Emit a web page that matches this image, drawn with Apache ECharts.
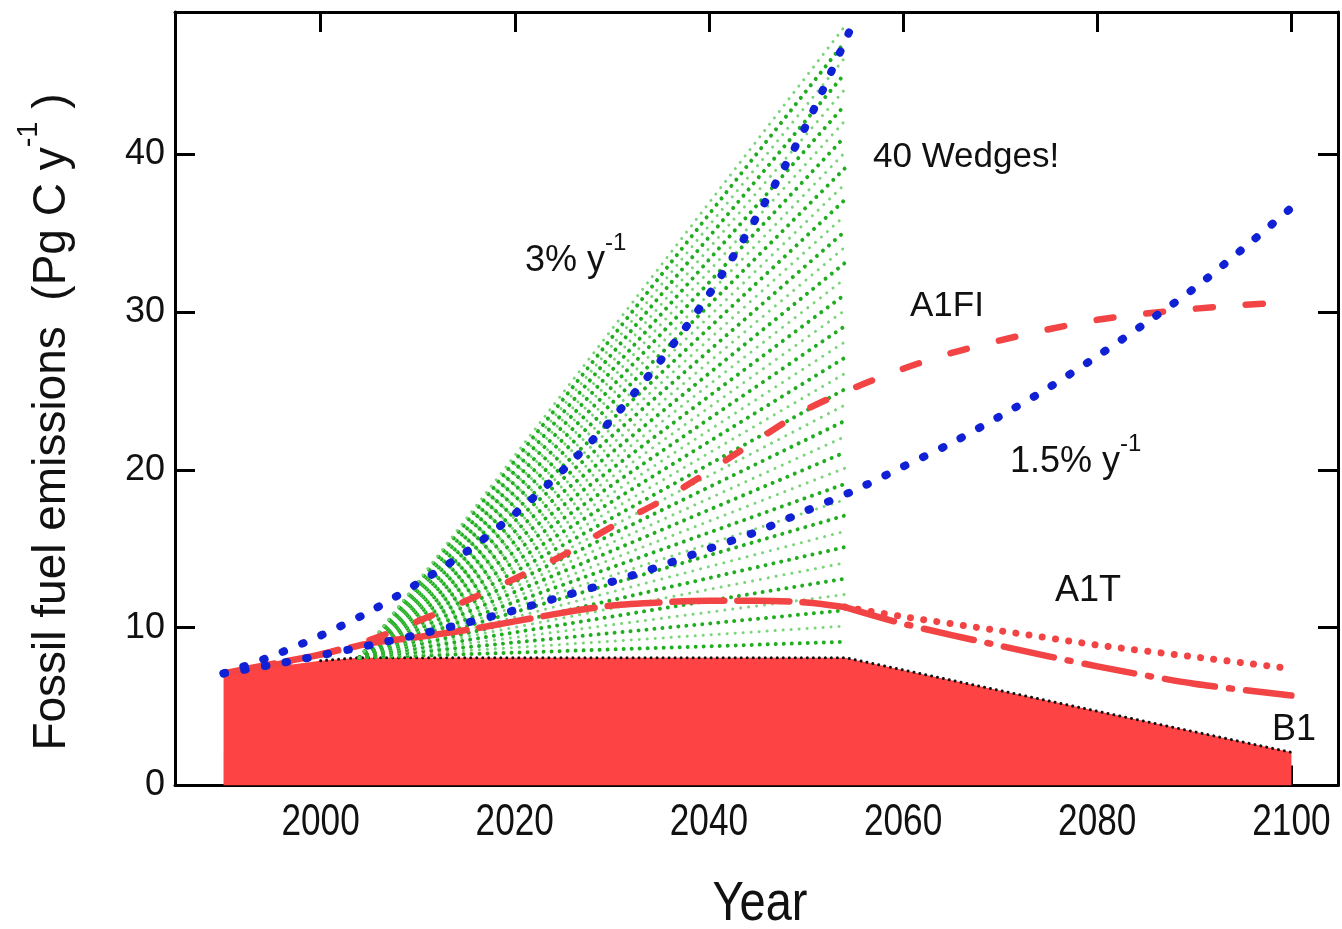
<!DOCTYPE html>
<html>
<head>
<meta charset="utf-8">
<script src="https://cdn.jsdelivr.net/npm/echarts@6/dist/echarts.min.js"></script>
<style>
  html, body { margin: 0; padding: 0; background: #ffffff; }
  #chart { width: 1342px; height: 929px; }
</style>
</head>
<body>
<div id="chart"></div>
<script>
// ---- Emission pathways, Pg C per year ----
const growth3Years = [1990, 1995, 2000, 2005, 2010, 2015, 2020, 2025, 2030, 2035, 2040, 2045, 2050, 2055];
const growth3Values = [7.1, 8.2, 9.5, 11.0, 12.8, 14.8, 17.2, 20.0, 23.2, 26.9, 31.1, 36.1, 41.8, 48.5];

const fiveYearSteps = [1990, 1995, 2000, 2005, 2010, 2015, 2020, 2025, 2030, 2035, 2040, 2045,
                       2050, 2055, 2060, 2065, 2070, 2075, 2080, 2085, 2090, 2095, 2100];
const growth15Values = [7.1, 7.65, 8.24, 8.88, 9.56, 10.3, 11.1, 12.0, 12.9, 13.9, 15.0, 16.1,
                        17.4, 18.7, 20.2, 21.7, 23.4, 25.2, 27.2, 29.3, 31.5, 34.0, 36.6];
const a1fiValues = [7.1, 7.6, 8.3, 9.2, 10.4, 11.7, 13.1, 14.6, 16.4, 18.0, 19.9, 21.9,
                    23.8, 25.2, 26.4, 27.4, 28.2, 28.9, 29.5, 29.9, 30.2, 30.45, 30.6];

const a1tSharedYears = [1990, 1995, 2000, 2005, 2010, 2015, 2020, 2025, 2030, 2035, 2040, 2045, 2050, 2054];
const a1tSharedValues = [7.1, 7.7, 8.3, 9.0, 9.4, 9.85, 10.4, 10.95, 11.4, 11.6, 11.7, 11.7, 11.6, 11.3];
const a1tBranchYears = [2054, 2060, 2070, 2080, 2090, 2100];
const a1tHighValues = [11.3, 10.7, 9.8, 8.9, 8.15, 7.4];
const a1tLowValues = [11.3, 10.25, 8.85, 7.55, 6.45, 5.7];

const b1Years = [1990, 2000, 2004, 2054, 2100];
const b1Values = [7.1, 7.9, 8.1, 8.1, 2.1];

// Stabilisation wedges: each fans out from the flat path to its 2054 level
const wedgeStartYear = 2004;
const wedgeStartValue = 8.1;
const wedgeEndYear = 2054;
const wedgeEndValues = [9.1, 10.1, 11.1, 12.1, 13.1, 14.1, 15.1, 16.1, 17.1, 18.1,
                        19.1, 20.1, 21.1, 22.1, 23.1, 24.1, 25.1, 26.1, 27.1, 28.1,
                        29.1, 30.1, 31.1, 32.1, 33.1, 34.1, 35.1, 36.1, 37.1, 38.1,
                        39.1, 40.1, 41.1, 42.1, 43.1, 44.1, 45.1, 46.1, 47.1, 48.1];

const xTickYears = [2000, 2020, 2040, 2060, 2080, 2100];
const yTickValues = [0, 10, 20, 30, 40];

// ---- Styling ----
const FONT = '"Liberation Sans", Arial, Helvetica, sans-serif';
const RED = '#f24444';
const FILL_RED = '#fd4343';
const BLUE = '#1020d4';
const GREEN_DARK = '#20ae20';
const GREEN_LIGHT = '#7ad47a';
const INK = '#111111';

const pairs = (xs, ys) => xs.map((x, i) => [x, ys[i]]);

const lineSeries = (name, data, style, z, smooth) => ({
  name, type: 'line', data, symbol: 'none', silent: true,
  smooth: smooth === undefined ? 0.3 : smooth,
  lineStyle: Object.assign({ cap: 'round', join: 'round' }, style),
  z: z || 2
});

const series = [];

// B1 pathway, filled down to zero, with its dotted outline
series.push({
  name: 'B1', type: 'line', data: pairs(b1Years, b1Values), symbol: 'none', silent: true,
  lineStyle: { width: 0, color: FILL_RED }, areaStyle: { color: FILL_RED, opacity: 1 }, z: 1
});
series.push(lineSeries('B1 edge', pairs(b1Years.slice(1), b1Values.slice(1)),
  { color: INK, width: 3, type: [0.01, 6] }, 2, false));

// The wedge fan
wedgeEndValues.forEach((top, k) => {
  series.push({
    type: 'line', symbol: 'none', silent: true, z: 2,
    data: [[wedgeStartYear, wedgeStartValue], [wedgeEndYear, top]],
    lineStyle: {
      color: k % 2 === 0 ? GREEN_DARK : GREEN_LIGHT,
      width: k % 2 === 0 ? 4 : 3,
      type: [0.01, 8], cap: 'round'
    }
  });
});

// A1T and its two continuations
series.push(lineSeries('A1T', pairs(a1tSharedYears, a1tSharedValues),
  { color: RED, width: 6.5, type: [52, 13] }, 3));
series.push(lineSeries('A1T high', pairs(a1tBranchYears, a1tHighValues),
  { color: RED, width: 7, type: [0.01, 13.3] }, 3));
series.push(lineSeries('A1T low', pairs(a1tBranchYears, a1tLowValues),
  { color: RED, width: 6.5, type: [51, 14, 3, 14] }, 3));

// A1FI
series.push(lineSeries('A1FI', pairs(fiveYearSteps, a1fiValues),
  { color: RED, width: 6.5, type: [17, 33] }, 3));

// Constant growth paths
series.push(lineSeries('1.5%', pairs(fiveYearSteps, growth15Values),
  { color: BLUE, width: 8, type: [1.5, 19.5] }, 4));
series.push(lineSeries('3%', pairs(growth3Years, growth3Values),
  { color: BLUE, width: 8, type: [1.5, 19.5] }, 4));

const axisLine = { show: true, onZero: false, lineStyle: { color: '#000000', width: 3 } };
const xTick = { show: true, inside: true, length: 20, customValues: xTickYears,
                lineStyle: { color: '#000000', width: 3 } };
const yTick = { show: true, inside: true, length: 20, customValues: yTickValues,
                lineStyle: { color: '#000000', width: 3 } };

const xMin = 1985, xMax = 2104.8;

const option = {
  animation: false,
  backgroundColor: '#ffffff',
  grid: { left: 175, right: 4, top: 12, bottom: 143.5, containLabel: false },
  xAxis: [
    {
      type: 'value', position: 'bottom', min: xMin, max: xMax, splitNumber: 6,
      axisLine, axisTick: xTick, splitLine: { show: false },
      axisLabel: { show: false }
    },
    {
      type: 'value', position: 'top', min: xMin, max: xMax, splitNumber: 6,
      axisLine, axisTick: xTick, splitLine: { show: false }, axisLabel: { show: false }
    }
  ],
  yAxis: [
    {
      type: 'value', position: 'left', min: 0, max: 49, interval: 10,
      axisLine, axisTick: yTick, splitLine: { show: false },
      axisLabel: {
        customValues: yTickValues,
        formatter: v => String(v),
        fontFamily: FONT, fontSize: 36, color: INK, margin: 10
      }
    },
    {
      type: 'value', position: 'right', min: 0, max: 49, interval: 10,
      axisLine, axisTick: yTick, splitLine: { show: false }, axisLabel: { show: false }
    }
  ],
  series
};

const chart = echarts.init(document.getElementById('chart'), null, { renderer: 'canvas' });
chart.setOption(option);

// Year labels are set in a condensed face: place them on the axis scale and squeeze horizontally
const axisY = chart.convertToPixel({ yAxisIndex: 0 }, 0);
const yearLabels = xTickYears.map(yr => ({
  type: 'text', silent: true,
  x: chart.convertToPixel({ xAxisIndex: 0 }, yr), y: axisY + 37,
  scaleX: 0.8,
  style: { text: String(yr), align: 'center', verticalAlign: 'middle',
           fontFamily: FONT, fontSize: 44, fill: INK }
}));

const supRich = (size, supSize, lh) => ({
  a: { fontSize: size, fontFamily: FONT, fill: INK, lineHeight: lh },
  s: { fontSize: supSize, fontFamily: FONT, fill: INK, lineHeight: supSize + 2, verticalAlign: 'top' }
});

chart.setOption({
  graphic: yearLabels.concat([
    {
      type: 'text', x: 52, y: 422, rotation: Math.PI / 2, silent: true,
      style: {
        text: '{a|Fossil fuel emissions  (Pg C y}{s|-1}{a| )}',
        align: 'center', verticalAlign: 'middle',
        rich: supRich(46, 29, 76)
      }
    },
    {
      type: 'text', x: 760, y: 905, scaleX: 0.84, silent: true,
      style: { text: 'Year', align: 'center', verticalAlign: 'middle',
               fontFamily: FONT, fontSize: 56, fill: INK }
    },
    {
      type: 'text', x: 525, y: 231, silent: true,
      style: { text: '{a|3% y}{s|-1}', align: 'left', verticalAlign: 'top', rich: supRich(36, 24, 60) }
    },
    {
      type: 'text', x: 1010, y: 432, silent: true,
      style: { text: '{a|1.5% y}{s|-1}', align: 'left', verticalAlign: 'top', rich: supRich(36, 24, 60) }
    },
    {
      type: 'text', x: 873, y: 157.5, silent: true,
      style: { text: '40 Wedges!', align: 'left', verticalAlign: 'middle',
               fontFamily: FONT, fontSize: 35, fill: INK }
    },
    {
      type: 'text', x: 910, y: 306.5, silent: true,
      style: { text: 'A1FI', align: 'left', verticalAlign: 'middle',
               fontFamily: FONT, fontSize: 35, fill: INK }
    },
    {
      type: 'text', x: 1055, y: 591.5, silent: true,
      style: { text: 'A1T', align: 'left', verticalAlign: 'middle',
               fontFamily: FONT, fontSize: 36, fill: INK }
    },
    {
      type: 'text', x: 1272, y: 730, silent: true,
      style: { text: 'B1', align: 'left', verticalAlign: 'middle',
               fontFamily: FONT, fontSize: 36, fill: INK }
    }
  ])
});
</script>
</body>
</html>
